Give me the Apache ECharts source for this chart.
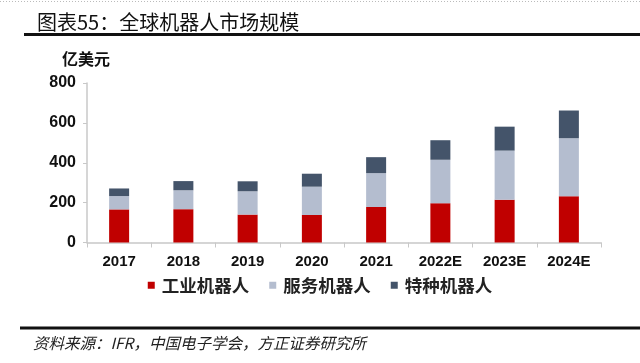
<!DOCTYPE html>
<html><head><meta charset="utf-8">
<script src="https://cdn.jsdelivr.net/npm/echarts@6/dist/echarts.min.js"></script>
<style>html,body{margin:0;padding:0;background:#fff}#c{width:640px;height:363px}</style>
</head><body><div id="c"></div>
<script>
const categories = ['2017','2018','2019','2020','2021','2022E','2023E','2024E'];
const industrial = [166, 167, 140, 138, 178, 197, 215, 232];
const service = [67, 95, 117, 142, 170, 218, 246, 291];
const special = [38, 46, 50, 65, 80, 98, 120, 139];
const seriesNames = ['工业机器人','服务机器人','特种机器人'];
const colors = ['#C00000','#B4BDCF','#44546A'];
const yTicks = {min:0, max:800, interval:200};

const chart = echarts.init(document.getElementById('c'), null, {renderer:'canvas'});
const cjk = '"Noto Sans CJK SC", sans-serif';
chart.setOption({
  animation:false,
  backgroundColor:'#fff',
  grid:{left:87, right:39, top:83, bottom:120.5},
  legend:{
    data:seriesNames, bottom:64, left:'center', itemWidth:7, itemHeight:7, itemGap:20,
    icon:'rect',
    textStyle:{fontFamily:cjk, fontSize:17.5, fontWeight:'bold', color:'#222', padding:[0,0,0,2]}
  },
  xAxis:{
    type:'category', data:categories,
    axisLine:{lineStyle:{color:'#c8c8c8', width:1.5}},
    axisTick:{show:true, length:5, lineStyle:{color:'#c8c8c8'}},
    axisLabel:{fontFamily:'"Liberation Sans", Arial, sans-serif', fontWeight:'bold', fontSize:15, color:'#111', margin:12}
  },
  yAxis:{
    type:'value', min:yTicks.min, max:yTicks.max, interval:yTicks.interval,
    axisLine:{show:true, lineStyle:{color:'#c8c8c8', width:1.5}},
    axisTick:{show:true, length:4, lineStyle:{color:'#c8c8c8'}},
    splitLine:{show:false},
    axisLabel:{fontFamily:'"Liberation Sans", Arial, sans-serif', fontWeight:'bold', fontSize:16, color:'#111', margin:11}
  },
  series:[
    {name:seriesNames[0], type:'bar', stack:'a', data:industrial, barWidth:20, itemStyle:{color:colors[0]}},
    {name:seriesNames[1], type:'bar', stack:'a', data:service, barWidth:20, itemStyle:{color:colors[1]}},
    {name:seriesNames[2], type:'bar', stack:'a', data:special, barWidth:20, itemStyle:{color:colors[2]}}
  ],
  graphic:[
    {type:'line', shape:{x1:0,y1:1.5,x2:640,y2:1.5}, style:{stroke:'#bbb', lineWidth:1, lineDash:[1,2]}},
    {type:'text', left:37, top:12, style:{text:'图表55：全球机器人市场规模', fontFamily:cjk, fontSize:20, fill:'#111'}},
    {type:'rect', shape:{x:24,y:33,width:616,height:3}, style:{fill:'#111'}},
    {type:'text', left:62, top:51, style:{text:'亿美元', fontFamily:cjk, fontSize:16, fontWeight:'bold', fill:'#111'}},
    {type:'rect', shape:{x:20,y:326.5,width:620,height:3}, style:{fill:'#111'}},
    {type:'text', left:33, top:335, style:{text:'资料来源：IFR，中国电子学会，方正证券研究所', fontFamily:cjk, fontSize:15.5, fontStyle:'italic', fill:'#222'}}
  ]
});
</script></body></html>
